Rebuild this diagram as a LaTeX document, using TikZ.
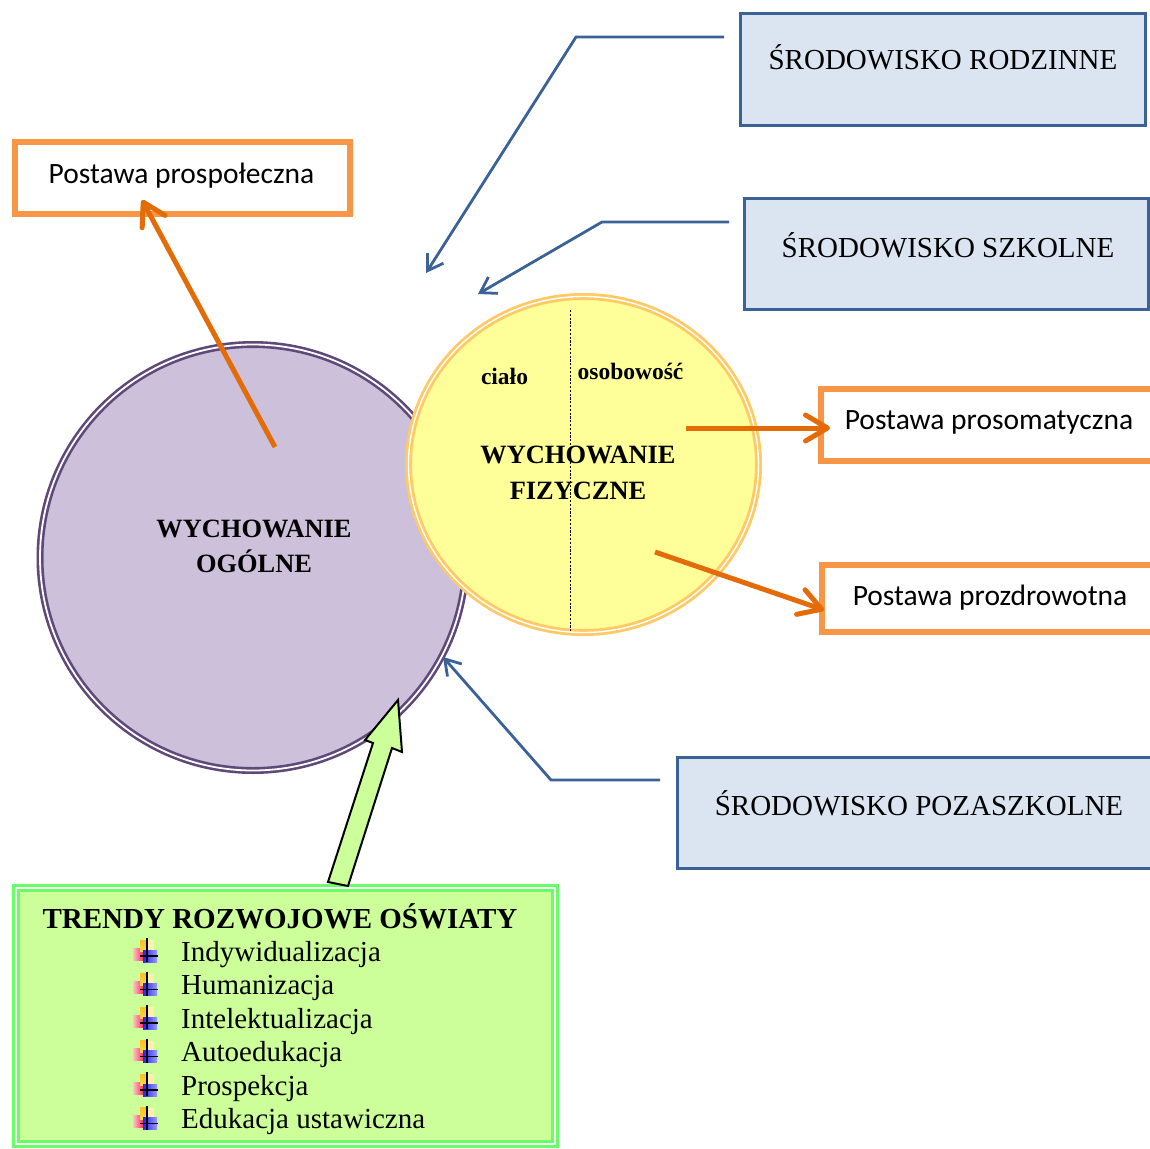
\documentclass[tikz,border=0pt]{standalone}
\usepackage{fontspec}
\setmainfont{Liberation Serif}
\newfontfamily\calfont{Carlito}
\usetikzlibrary{arrows.meta,shapes.geometric}
\definecolor{purpfill}{HTML}{CCC0DA}
\definecolor{purpline}{HTML}{5F497A}
\definecolor{yelfill}{HTML}{FFFF99}
\definecolor{yelline}{HTML}{FFC966}
\definecolor{bluefill}{HTML}{DBE5F1}
\definecolor{blueline}{HTML}{3A6296}
\definecolor{orbox}{HTML}{F79646}
\definecolor{orarr}{HTML}{E36C09}
\definecolor{grfill}{HTML}{CCFF99}
\definecolor{grline}{HTML}{66FF66}
\definecolor{bulred}{HTML}{FF3355}
\definecolor{bulorange}{HTML}{FFC020}
\definecolor{bulyellow}{HTML}{FFD850}
\definecolor{bullight}{HTML}{FFF0B0}
\definecolor{bulblue}{HTML}{2222FF}
\tikzset{
  bbox/.style={rectangle, draw=blueline, fill=bluefill, line width=3pt, inner sep=0pt},
  obox/.style={rectangle, draw=orbox, fill=white, line width=5.5pt, inner sep=0pt},
  barr/.style={draw=blueline, line width=2.8pt, line join=miter, -{Straight Barb[length=15pt,width=19pt]}},
  oarr/.style={draw=orarr, line width=5pt, -{Straight Barb[length=22pt,width=26pt,round]}},
  serif29/.style={font=\fontsize{29}{34}\selectfont, inner sep=0pt},
  sans28/.style={font=\calfont\fontsize{29.5}{34}\selectfont, inner sep=0pt},
  bold26/.style={font=\bfseries\fontsize{26.4}{32}\selectfont, inner sep=0pt},
  bold23/.style={font=\bfseries\fontsize{23.5}{28}\selectfont, inner sep=0pt},
  bul/.pic={
    \fill[left color=bulred!30, right color=bulred] (-13.7,-8) rectangle (-3.7,4);
    \fill[top color=bulorange, bottom color=bulyellow] (-6.7,-16) rectangle (0,-4.3);
    \fill[bullight] (0,-16) rectangle (7.6,-4.3);
    \fill[left color=bulblue, right color=bulblue!45] (-3.7,-6) rectangle (10.3,6);
    \draw[line width=1.8pt] (0,-18) -- (0,6) (-6.7,0) -- (11,0);
  }
}
\begin{document}
\begin{tikzpicture}[x=1pt,y=-1pt]
\clip (0,0) rectangle (1150,1148);
\fill[white] (0,0) rectangle (1150,1148);

% circles
\node[circle, minimum size=426pt, inner sep=0pt, fill=purpfill, draw=purpline,
      line width=2.6pt, double=white, double distance=1.8pt] (ogolne) at (253,557.5) {};
\node[ellipse, minimum width=350pt, minimum height=336pt, inner sep=0pt, fill=yelfill,
      draw=yelline, line width=2.8pt, double=white, double distance=1.4pt] (fizyczne) at (583.5,464.5) {};

\coordinate (dtop) at (570,310);
\coordinate (dbot) at (570,632);
\draw[line width=0.9pt, dash pattern=on 2.2pt off 1.6pt] (dtop) -- (dbot);

\node[bold23, anchor=base] (cialo) at (504.5,384) {ciało};
\node[bold23, anchor=base] (osob) at (630.5,379) {osobowość};
\node[bold26, anchor=base] (wf1) at (578,463) {WYCHOWANIE};
\node[bold26, anchor=base] (wf2) at (578,499) {FIZYCZNE};
\node[bold26, anchor=base] (wo1) at (254,537) {WYCHOWANIE};
\node[bold26, anchor=base] (wo2) at (254,572) {OGÓLNE};

% blue boxes
\node[bbox, minimum width=405pt, minimum height=112pt] (rodz) at (943,69.5) {};
\node[serif29, anchor=base] (rodzt) at (943,70) {ŚRODOWISKO RODZINNE};
\node[bbox, minimum width=404pt, minimum height=111pt] (szk) at (946.5,254) {};
\node[serif29, anchor=base] (szkt) at (948,257) {ŚRODOWISKO SZKOLNE};
\node[bbox, minimum width=482.5pt, minimum height=111pt] (poza) at (918.75,813) {};
\node[serif29, anchor=base] (pozat) at (919,815) {ŚRODOWISKO POZASZKOLNE};

% orange boxes
\node[obox, minimum width=335pt, minimum height=72pt] (spol) at (182.5,178) {};
\node[sans28, anchor=base] (spolt) at (181.5,183) {Postawa prospołeczna};
\node[obox, minimum width=339pt, minimum height=72pt] (soma) at (990.5,425) {};
\node[sans28, anchor=base] (somat) at (989,429) {Postawa prosomatyczna};
\node[obox, minimum width=338pt, minimum height=67pt] (zdro) at (991,598.5) {};
\node[sans28, anchor=base] (zdrot) at (990,605) {Postawa prozdrowotna};

% blue connectors
\coordinate (r0) at (724,37);
\coordinate (r1) at (576,37);
\coordinate (r2) at (426,273);
\draw[barr] (r0) -- (r1) -- (r2);
\coordinate (s0) at (729,222);
\coordinate (s1) at (602,222);
\coordinate (s2) at (478,294);
\draw[barr] (s0) -- (s1) -- (s2);
\coordinate (p0) at (660,780);
\coordinate (p1) at (551,780);
\coordinate (p2) at (443,657);
\draw[barr] (p0) -- (p1) -- (p2);

% orange connectors
\coordinate (o1a) at (275,447);
\coordinate (o1b) at (142,200);
\draw[oarr] (o1a) -- (o1b);
\coordinate (o2a) at (686,428);
\coordinate (o2b) at (830,428);
\draw[oarr] (o2a) -- (o2b);
\coordinate (o3a) at (655,552);
\coordinate (o3b) at (824,610);
\draw[oarr] (o3a) -- (o3b);

% green box
\draw[draw=grline, fill=grfill, line width=3pt, double=white, double distance=2pt]
  (16,888) rectangle (555,1144);
\node[font=\bfseries\fontsize{29}{34}\selectfont, inner sep=0pt, anchor=base] (trend) at (280,928) {TRENDY ROZWOJOWE OŚWIATY};

\foreach \b/\t [count=\i] in {961/Indywidualizacja, 994.5/Humanizacja, 1028/Intelektualizacja,
    1061.5/Autoedukacja, 1095/Prospekcja, 1128.5/Edukacja ustawiczna}{
  \pic at (146.7,\b-5) {bul};
  \node[serif29, anchor=base west] (item\i) at (181,\b) {\t};
}

% green block arrow
\draw[fill=grfill, draw=black, line width=2pt, line join=miter]
  (398,700) -- (402,752) -- (392,748) -- (348,886) -- (328,882) -- (373,743) -- (365,740) -- cycle;
\end{tikzpicture}
\end{document}
